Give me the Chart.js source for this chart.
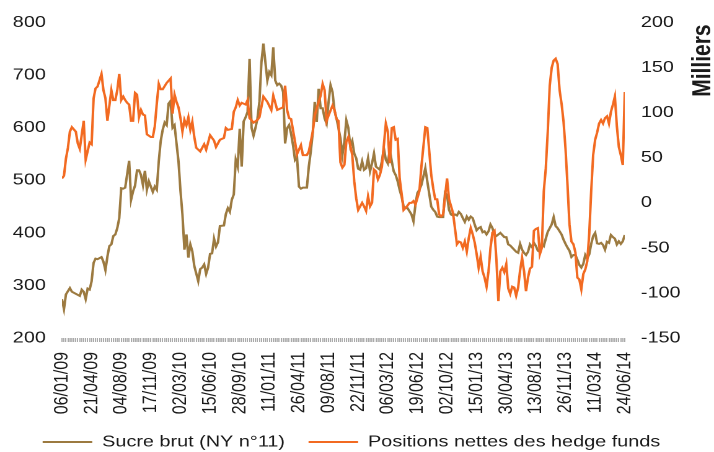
<!DOCTYPE html>
<html>
<head>
<meta charset="utf-8">
<script src="https://cdn.jsdelivr.net/npm/chart.js@4.4.1/dist/chart.umd.min.js"></script>
<style>
  html, body { margin: 0; padding: 0; background: #fff; }
</style>
</head>
<body>
<!-- the original picture is stretched sideways, so the canvas is drawn narrower and widened by css -->
<canvas id="chart" width="576" height="452" style="width:714px;height:452px"></canvas>
<script>
// one label every 15 weeks, week 0 = 06/01/09
const tickLabels = ["06/01/09", "21/04/09", "04/08/09", "17/11/09", "02/03/10", "15/06/10", "28/09/10",
  "11/01/11", "26/04/11", "09/08/11", "22/11/11", "06/03/12", "19/06/12", "02/10/12", "15/01/13",
  "30/04/13", "13/08/13", "26/11/13", "11/03/14", "24/06/14"];

// Sucre brut (NY n°11), left axis
const sugarWeeks = [
  0, 1, 2, 3, 4, 5, 7, 9, 10, 11,
  12, 13, 14, 15, 16, 17, 18, 20, 21, 22,
  23, 24, 25, 26, 27, 28, 29, 30, 31, 32,
  34, 35, 36, 37, 38, 39, 40, 41, 42, 43,
  44, 46, 47, 48, 49, 50, 51, 52, 53, 54,
  55, 56, 57, 58, 59, 60, 61, 62, 63, 64,
  65, 66, 67, 69, 70, 71, 72, 73, 74, 75,
  76, 77, 78, 79, 80, 82, 83, 84, 85, 86,
  87, 88, 89, 90, 91, 92, 93, 94, 95, 96,
  97, 98, 99, 100, 101, 102, 103, 104, 105, 106,
  107, 108, 109, 110, 111, 112, 113, 114, 115, 116,
  117, 118, 119, 120, 121, 122, 124, 125, 126, 127,
  128, 129, 130, 131, 132, 133, 134, 135, 136, 137,
  138, 139, 140, 141, 142, 143, 144, 145, 146, 147,
  148, 149, 150, 151, 152, 153, 154, 155, 156, 157,
  158, 159, 160, 161, 162, 163, 164, 165, 166, 167,
  168, 169, 170, 171, 172, 173, 174, 175, 176, 177,
  178, 179, 180, 181, 182, 183, 184, 185, 187, 188,
  189, 190, 191, 193, 194, 195, 196, 197, 198, 199,
  200, 201, 202, 203, 204, 205, 206, 207, 208, 209,
  210, 211, 212, 213, 214, 215, 216, 217, 218, 219,
  220, 221, 222, 223, 224, 225, 226, 227, 228, 229,
  230, 231, 232, 233, 234, 235, 236, 237, 238, 239,
  240, 241, 242, 243, 244, 245, 246, 247, 248, 249,
  250, 251, 252, 253, 254, 255, 256, 257, 258, 259,
  260, 261, 262, 263, 264, 265, 266, 267, 268, 269,
  270, 271, 272, 273, 274, 275, 276, 277, 278, 279,
  280, 281, 282, 283, 284, 285];
const sugarValues = [
  274, 255, 283, 289, 295, 288, 284, 280, 292, 288,
  274, 294, 292, 308, 343, 351, 350, 354, 345, 329,
  355, 375, 378, 394, 397, 409, 428, 485, 484, 486,
  537, 463, 479, 490, 519, 519, 510, 491, 518, 482,
  498, 478, 488, 482, 536, 575, 596, 610, 605, 646,
  651, 600, 605, 570, 536, 480, 435, 368, 397, 353,
  378, 365, 337, 308, 331, 334, 340, 322, 334, 360,
  361, 389, 374, 382, 413, 414, 436, 447, 440, 463,
  473, 539, 526, 598, 526, 612, 620, 630, 731, 600,
  585, 600, 618, 650, 725, 760, 725, 690, 706, 700,
  753, 690, 681, 684, 680, 668, 570, 599, 605, 589,
  567, 539, 545, 488, 484, 486, 486, 526, 555, 590,
  649, 611, 674, 637, 637, 618, 608, 649, 681, 668,
  633, 618, 600, 580, 548, 573, 614, 600, 565, 575,
  551, 542, 522, 520, 536, 520, 523, 542, 517, 532,
  551, 526, 523, 520, 536, 561, 539, 532, 558, 536,
  517, 510, 498, 482, 469, 450, 447, 447, 441, 435,
  422, 454, 476, 482, 491, 507, 523, 498, 450, 444,
  440, 431, 430, 430, 476, 472, 444, 435, 433, 435,
  433, 440, 436, 428, 421, 431, 425, 431, 428, 416,
  405, 409, 411, 401, 403, 397, 403, 416, 409, 397,
  394, 397, 400, 396, 392, 392, 378, 376, 372, 368,
  364, 362, 379, 368, 362, 358, 364, 378, 373, 381,
  375, 366, 364, 379, 375, 389, 402, 409, 416, 430,
  413, 409, 403, 397, 387, 379, 372, 366, 354, 358,
  358, 349, 339, 334, 341, 358, 351, 359, 379, 394,
  400, 380, 379, 381, 377, 368, 383, 381, 396, 392,
  389, 378, 384, 379, 384, 396];

// Positions nettes des hedge funds (milliers), right axis
const fundsWeeks = [
  0, 1, 2, 3, 4, 5, 7, 8, 9, 11,
  12, 14, 15, 16, 17, 18, 20, 21, 22, 23,
  25, 26, 27, 28, 29, 30, 31, 32, 33, 34,
  35, 36, 37, 38, 39, 40, 41, 42, 43, 45,
  46, 47, 48, 49, 50, 51, 53, 55, 56, 57,
  58, 59, 60, 61, 62, 63, 64, 65, 66, 67,
  68, 70, 72, 73, 75, 77, 78, 80, 82, 83,
  84, 86, 87, 88, 89, 90, 91, 93, 94, 95,
  97, 99, 100, 102, 104, 106, 107, 109, 112, 113,
  114, 115, 116, 118, 119, 121, 122, 124, 125, 127,
  128, 130, 131, 132, 133, 134, 135, 137, 138, 139,
  140, 141, 142, 143, 144, 145, 146, 147, 148, 149,
  150, 152, 153, 154, 155, 156, 157, 158, 159, 160,
  161, 162, 164, 165, 166, 167, 168, 169, 170, 171,
  172, 173, 175, 176, 177, 178, 179, 181, 182, 183,
  184, 185, 186, 187, 188, 189, 190, 191, 192, 193,
  194, 195, 196, 198, 199, 200, 201, 202, 203, 204,
  205, 206, 207, 208, 209, 210, 211, 212, 213, 214,
  215, 216, 217, 218, 219, 220, 221, 222, 223, 224,
  225, 226, 227, 228, 229, 230, 231, 232, 233, 234,
  235, 236, 237, 238, 239, 240, 241, 242, 243, 244,
  245, 246, 247, 248, 249, 250, 251, 252, 253, 254,
  255, 256, 257, 258, 259, 260, 261, 262, 263, 264,
  265, 266, 267, 268, 269, 270, 271, 272, 273, 274,
  275, 276, 277, 278, 279, 280, 281, 282, 283, 284, 285];
const fundsValues = [
  27, 30, 49, 61, 79, 84, 79, 66, 60, 91,
  48, 67, 65, 116, 127, 129, 143, 125, 116, 91,
  125, 114, 114, 125, 143, 114, 118, 114, 111, 109,
  91, 91, 122, 120, 95, 103, 98, 97, 76, 73,
  73, 85, 110, 132, 126, 126, 133, 138, 99, 120,
  112, 106, 94, 79, 92, 86, 95, 81, 90, 73,
  61, 57, 65, 59, 75, 69, 62, 70, 72, 83,
  81, 82, 101, 106, 114, 108, 111, 109, 114, 94,
  89, 92, 95, 118, 112, 103, 119, 103, 106, 130,
  103, 94, 93, 68, 54, 64, 53, 53, 57, 79,
  97, 112, 119, 132, 125, 91, 97, 108, 103, 93,
  91, 45, 39, 42, 68, 73, 64, 53, 24, 5,
  -8, 0, -4, -9, 7, -4, 0, 37, 35, 26,
  31, 40, 88, 79, 44, 83, 84, 70, 71, 27,
  10, -8, -3, 0, 0, 2, -2, 13, 40, 62,
  84, 83, 57, 31, 16, 4, 4, -13, -15, -13,
  7, 27, 4, -11, -28, -46, -43, -44, -50, -43,
  -54, -39, -28, -35, -44, -57, -72, -60, -76, -83,
  -93, -76, -50, -33, -31, -63, -109, -76, -72, -77,
  -68, -95, -101, -93, -94, -103, -94, -75, -61, -76,
  -98, -83, -73, -71, -31, -29, -28, -57, -50, 13,
  38, 79, 130, 150, 158, 160, 154, 125, 110, 90,
  60, 20, -24, -43, -46, -55, -83, -85, -96, -79,
  -74, -65, -35, 13, 53, 70, 78, 88, 92, 88,
  94, 96, 88, 101, 109, 118, 85, 62, 53, 42, 123];

const brown = "#9c7a40";
const orange = "#f26a21";
const textColor = "#1a1a1a";

Chart.defaults.font.family = '"Liberation Sans", Arial, sans-serif';
Chart.defaults.font.size = 16;
Chart.defaults.color = textColor;

const toPoints = (weeks, values) => weeks.map((w, i) => ({ x: w, y: values[i] }));

// "Milliers" reads bottom to top, chart.js would turn a right axis title the other way
const milliersTitle = {
    id: "milliersTitle",
    afterDraw(chart) {
        const ctx = chart.ctx;
        const y1 = chart.scales.y1;
        ctx.save();
        ctx.translate(y1.right, chart.chartArea.top + 38);
        ctx.rotate(-Math.PI / 2);
        ctx.font = 'bold 21px "Liberation Sans", Arial, sans-serif';
        ctx.fillStyle = textColor;
        ctx.textAlign = "center";
        ctx.textBaseline = "middle";
        ctx.fillText("Milliers", 0, 0);
        ctx.restore();
    }
};

new Chart(document.getElementById("chart"), {
    type: "line",
    data: {
        datasets: [{
            label: "Sucre brut (NY n°11)",
            data: toPoints(sugarWeeks, sugarValues),
            yAxisID: "y",
            borderColor: brown,
            backgroundColor: brown,
            borderWidth: 2,
            pointRadius: 0,
            tension: 0,
            order: 1
        }, {
            label: "Positions nettes des hedge funds",
            data: toPoints(fundsWeeks, fundsValues),
            yAxisID: "y1",
            borderColor: orange,
            backgroundColor: orange,
            borderWidth: 2,
            pointRadius: 0,
            tension: 0,
            order: 0
        }]
    },
    options: {
        responsive: false,
        animation: false,
        devicePixelRatio: 2,
        layout: { padding: { top: 22, left: 0, right: 9, bottom: 0 } },
        plugins: {
            tooltip: { enabled: false },
            legend: {
                position: "bottom",
                maxHeight: 37,
                labels: {
                    boxWidth: 40,
                    boxHeight: 0,
                    padding: 19,
                    color: textColor,
                    font: { size: 16 },
                    sort: (a, b) => a.datasetIndex - b.datasetIndex
                }
            }
        },
        scales: {
            x: {
                type: "linear",
                min: 0,
                max: 285,
                border: { display: false },
                grid: { drawOnChartArea: false, drawTicks: true, tickLength: 4, color: "#aaaaaa", lineWidth: 1 },
                ticks: {
                    stepSize: 1,
                    autoSkip: false,
                    minRotation: 90,
                    maxRotation: 90,
                    padding: 10,
                    callback: v => {
                        const w = Math.round(v);
                        return w % 15 === 0 ? tickLabels[w / 15] : "";
                    }
                },
                afterFit: s => { s.height = 77; }
            },
            y: {
                position: "left",
                min: 200,
                max: 800,
                border: { display: false },
                grid: { display: false, drawTicks: false },
                ticks: { stepSize: 100, padding: 13 },
                afterFit: s => { s.width = 50; }
            },
            y1: {
                position: "right",
                min: -150,
                max: 200,
                border: { display: false },
                grid: { display: false, drawTicks: false },
                ticks: { stepSize: 50, padding: 13 },
                afterFit: s => { s.width = 63; }
            }
        }
    },
    plugins: [milliersTitle]
});
</script>
</body>
</html>
